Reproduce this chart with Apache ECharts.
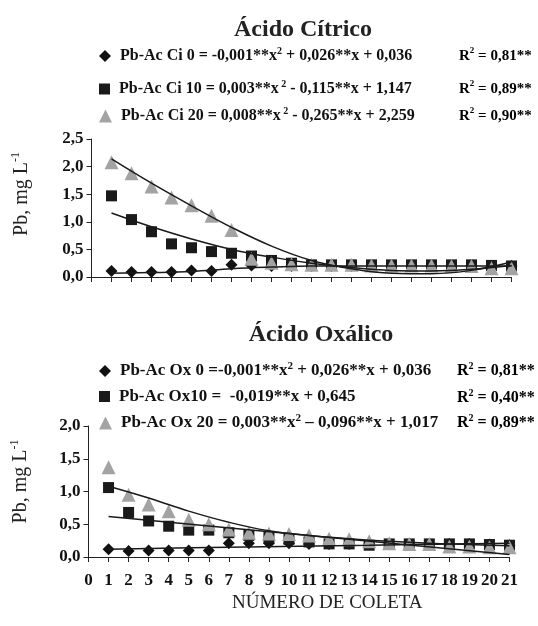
<!DOCTYPE html>
<html><head><meta charset="utf-8">
<script src="https://cdn.jsdelivr.net/npm/echarts@6/dist/echarts.min.js"></script>
<style>html,body{margin:0;padding:0;background:#fff}#c{width:538px;height:626px}</style>
</head><body><div id="c"></div>
<script>
// collection numbers (x)
const coleta = [1,2,3,4,5,6,7,8,9,10,11,12,13,14,15,16,17,18,19,20,21];
const xTicks = [0,1,2,3,4,5,6,7,8,9,10,11,12,13,14,15,16,17,18,19,20,21];
const yTicksTop = [0,0.5,1,1.5,2,2.5];
const yTicksBottom = [0,0.5,1,1.5,2];

// Ácido Cítrico – observed values
const ci0  = [0.11,0.09,0.09,0.09,0.12,0.11,0.22,0.21,0.20,0.20,0.20,0.20,0.20,0.20,0.20,0.20,0.20,0.20,0.20,0.20,0.20];
const ci10 = [1.47,1.04,0.82,0.60,0.53,0.46,0.43,0.38,0.30,0.25,0.22,0.22,0.22,0.22,0.22,0.22,0.22,0.22,0.22,0.21,0.20];
const ci20 = [2.08,1.88,1.64,1.44,1.30,1.11,0.85,0.33,0.26,0.23,0.22,0.22,0.22,0.21,0.21,0.21,0.21,0.20,0.20,0.16,0.16];
// Ácido Cítrico – fitted curves
const ci0FitX  = [1,3,5,7,9,11,15,21];
const ci0FitY  = [0.07,0.08,0.10,0.15,0.18,0.20,0.20,0.20];
const ci10FitX = [1,3,5,7,9,11,13,15,17,19,21];
const ci10FitY = [1.16,0.91,0.69,0.50,0.36,0.25,0.17,0.12,0.11,0.14,0.21];
const ci20FitX = [1,3,5,7,9,11,13,15,17,19,21];
const ci20FitY = [2.14,1.70,1.29,0.90,0.56,0.30,0.15,0.07,0.06,0.12,0.27];

// Ácido Oxálico – observed values
const ox0  = [0.12,0.09,0.10,0.10,0.10,0.10,0.21,0.21,0.21,0.21,0.20,0.20,0.20,0.20,0.20,0.20,0.20,0.20,0.20,0.19,0.18];
const ox10 = [1.06,0.68,0.55,0.47,0.41,0.41,0.37,0.33,0.30,0.27,0.23,0.20,0.20,0.18,0.20,0.20,0.20,0.20,0.20,0.19,0.18];
const ox20 = [1.37,0.95,0.80,0.70,0.57,0.50,0.42,0.37,0.36,0.35,0.33,0.28,0.27,0.24,0.21,0.20,0.20,0.16,0.16,0.15,0.15];
// Ácido Oxálico – fitted curves
const ox0FitX  = [1,7,14,21];
const ox0FitY  = [0.12,0.15,0.18,0.21];
const ox10FitX = [1,21];
const ox10FitY = [0.62,0.04];
const ox20FitX = [1,3,5,7,9,11,13,15,17,19,21];
const ox20FitY = [1.08,0.90,0.70,0.53,0.40,0.33,0.28,0.24,0.21,0.19,0.17];

const SERIF = '"Liberation Serif","Times New Roman",serif';
const zip = (xs, ys) => xs.map((x, i) => [x, ys[i]]);
const fmt = v => v.toFixed(1).replace('.', ',');

const chart = echarts.init(document.getElementById('c'), null, {renderer: 'canvas'});

const mkRich = (fs) => ({
  t: {fontFamily: SERIF, fontWeight: 'bold', fontSize: fs, color: '#111', lineHeight: 20, padding:[0,0,0,4]},
  u: {fontFamily: SERIF, fontWeight: 'bold', fontSize: fs, color: '#111', lineHeight: 20},
  s: {fontFamily: SERIF, fontWeight: 'bold', fontSize: Math.round(fs*0.62), color: '#111', lineHeight: 20, verticalAlign: 'top'}
});
const richTop = mkRich(16);
const richBot = mkRich(17);
const richR2 = mkRich(15);
const richR2b = mkRich(16);

const legendTexts = {
  'Pb-Ac Ci 0':  '{t|Pb-Ac Ci 0 = -0,001**x}{s|2}{u| + 0,026**x + 0,036}',
  'Pb-Ac Ci 10': '{t|Pb-Ac Ci 10 = 0,003**x}{s| 2}{u| - 0,115**x + 1,147}',
  'Pb-Ac Ci 20': '{t|Pb-Ac Ci 20 = 0,008**x}{s| 2}{u| - 0,265**x + 2,259}',
  'Pb-Ac Ox 0':  '{t|Pb-Ac Ox 0 =-0,001**x}{s|2}{u| + 0,026**x + 0,036}',
  'Pb-Ac Ox10':  '{t|Pb-Ac Ox10 =  -0,019**x + 0,645}',
  'Pb-Ac Ox 20': '{t|Pb-Ac Ox 20 = 0,003**x}{s|2}{u| – 0,096**x + 1,017}'
};
const legendRows = [
  {name:'Pb-Ac Ci 0', top:46, size:12, rich: richTop},
  {name:'Pb-Ac Ci 10', top:79, size:11, rich: richTop},
  {name:'Pb-Ac Ci 20', top:106, size:13, rich: richTop},
  {name:'Pb-Ac Ox 0', top:361, size:12, rich: richBot},
  {name:'Pb-Ac Ox10', top:388, size:11, rich: richBot},
  {name:'Pb-Ac Ox 20', top:413, size:13, rich: richBot}
];
const legends = legendRows.map(r => ({
  data: [r.name], left: 99, top: r.top, padding: 0, itemGap: 0,
  itemWidth: r.size, itemHeight: r.size, selectedMode: false,
  formatter: n => legendTexts[n],
  textStyle: {rich: r.rich}
}));

const r2Rows = [
  {txt:'0,81**', y:56, x:459, rich: richR2}, {txt:'0,89**', y:89, x:459, rich: richR2}, {txt:'0,90**', y:116, x:459, rich: richR2},
  {txt:'0,81**', y:371, x:457, rich: richR2b}, {txt:'0,40**', y:398, x:457, rich: richR2b}, {txt:'0,89**', y:423, x:457, rich: richR2b}
];
const graphics = r2Rows.map(r => ({
  type: 'text', left: r.x, top: r.y - 10,
  style: {text: '{u|R}{s|2}{u| = ' + r.txt + '}', rich: r.rich}
}));
graphics.push({
  type:'text', left: 232, top: 594,
  style:{text:'NÚMERO DE COLETA', font:'19px ' + SERIF, fill:'#222'}
});

const axisCommon = {
  axisLine: {show: true, lineStyle: {color: '#222', width: 1}},
  axisTick: {show: true, inside: false, length: 5, lineStyle: {color: '#222'}},
  splitLine: {show: false}
};
const yNameStyle = {
  fontFamily: SERIF, fontSize: 20, color: '#222',
  rich: {n:{fontFamily: SERIF, fontSize: 20, color:'#222', lineHeight: 24},
         p:{fontFamily: SERIF, fontSize: 12, color:'#222', lineHeight: 24, verticalAlign:'top'}}
};
const tickLabel = {fontFamily:SERIF, fontWeight:'bold', fontSize:17, color:'#111'};

const markerSeries = (name, data, idx, sym, size, color) => ({
  name, type: 'scatter', xAxisIndex: idx, yAxisIndex: idx,
  data: zip(coleta, data), symbol: sym, symbolSize: size,
  itemStyle: {color: color, opacity: 1}, z: 2
});
const fitSeries = (xs, ys, idx) => ({
  type: 'line', xAxisIndex: idx, yAxisIndex: idx, data: zip(xs, ys),
  smooth: 0.4, showSymbol: false, symbol: 'none',
  lineStyle: {color: '#1a1a1a', width: 1.5}, z: 5, silent: true
});

chart.setOption({
  animation: false,
  backgroundColor: '#fff',
  title: [
    {text: 'Ácido Cítrico', left: 298, top: 13, textAlign: 'center',
     textStyle: {fontFamily: SERIF, fontWeight: 'bold', fontSize: 24, color: '#222'}},
    {text: 'Ácido Oxálico', left: 316, top: 318, textAlign: 'center',
     textStyle: {fontFamily: SERIF, fontWeight: 'bold', fontSize: 24, color: '#222'}}
  ],
  legend: legends,
  graphic: graphics,
  grid: [
    {left: 91.5, top: 139, width: 420, height: 138},
    {left: 88.5, top: 426, width: 421, height: 131}
  ],
  xAxis: [
    Object.assign({type:'value', gridIndex:0, min:xTicks[0], max:xTicks[xTicks.length-1], interval:1,
      axisLabel:{show:false}}, axisCommon),
    Object.assign({type:'value', gridIndex:1, min:xTicks[0], max:xTicks[xTicks.length-1], interval:1,
      axisLabel:Object.assign({show:true, margin:15}, tickLabel)}, axisCommon)
  ],
  yAxis: [
    Object.assign({type:'value', gridIndex:0, min:yTicksTop[0], max:yTicksTop[yTicksTop.length-1], interval:0.5,
      name:'{n|Pb, mg L}{p|-1}', nameLocation:'middle', nameGap:58, nameRotate:90,
      nameTextStyle: Object.assign({padding:[0,0,0,28]}, yNameStyle),
      axisLabel:Object.assign({formatter: fmt, margin:8}, tickLabel)}, axisCommon),
    Object.assign({type:'value', gridIndex:1, min:yTicksBottom[0], max:yTicksBottom[yTicksBottom.length-1], interval:0.5,
      name:'{n|Pb, mg L}{p|-1}', nameLocation:'middle', nameGap:56, nameRotate:90,
      nameTextStyle: Object.assign({padding:[0,0,0,20]}, yNameStyle),
      axisLabel:Object.assign({formatter: fmt, margin:8}, tickLabel)}, axisCommon)
  ],
  series: [
    markerSeries('Pb-Ac Ci 0', ci0, 0, 'diamond', 12, '#111'),
    markerSeries('Pb-Ac Ci 10', ci10, 0, 'rect', 11, '#1a1a1a'),
    markerSeries('Pb-Ac Ci 20', ci20, 0, 'triangle', 14, '#a3a3a3'),
    fitSeries(ci0FitX, ci0FitY, 0),
    fitSeries(ci10FitX, ci10FitY, 0),
    fitSeries(ci20FitX, ci20FitY, 0),
    markerSeries('Pb-Ac Ox 0', ox0, 1, 'diamond', 12, '#111'),
    markerSeries('Pb-Ac Ox10', ox10, 1, 'rect', 11, '#1a1a1a'),
    markerSeries('Pb-Ac Ox 20', ox20, 1, 'triangle', 14, '#a3a3a3'),
    fitSeries(ox0FitX, ox0FitY, 1),
    fitSeries(ox10FitX, ox10FitY, 1),
    fitSeries(ox20FitX, ox20FitY, 1)
  ]
});
</script></body></html>
